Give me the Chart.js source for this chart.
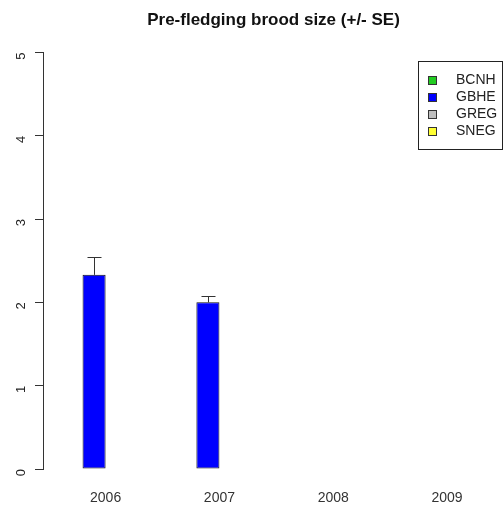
<!DOCTYPE html>
<html>
<head>
<meta charset="utf-8">
<title>Pre-fledging brood size</title>
<script src="https://cdn.jsdelivr.net/npm/chart.js@4.4.1/dist/chart.umd.min.js"></script>
<style>
  html, body { margin: 0; padding: 0; background: #fff; }
  canvas { display: block; }
</style>
</head>
<body>
<canvas id="broodChart" width="504" height="510"></canvas>
<script>
// Years on the x axis and species in each group
const years = ['2006', '2007', '2008', '2009'];
const species = ['BCNH', 'GBHE', 'GREG', 'SNEG'];
const speciesColors = ['#22cc22', '#0000ff', '#bebebe', '#ffff33'];

// Mean brood size per year, one array per species (null = no data)
const bcnhMean = [null, null, null, null];
const gbheMean = [2.33, 2.0, null, null];
const gregMean = [null, null, null, null];
const snegMean = [null, null, null, null];

// Standard errors
const bcnhSE = [null, null, null, null];
const gbheSE = [0.22, 0.08, null, null];
const gregSE = [null, null, null, null];
const snegSE = [null, null, null, null];

const yTicks = [0, 1, 2, 3, 4, 5];

const means = [bcnhMean, gbheMean, gregMean, snegMean];
const errors = [bcnhSE, gbheSE, gregSE, snegSE];

const font = "'Liberation Sans', Arial, sans-serif";

// upward error bars with a cap, from the mean to mean + SE
const errorBars = {
    id: 'errorBars',
    afterDatasetsDraw(chart) {
        const ctx = chart.ctx;
        const y = chart.scales.y;
        ctx.save();
        ctx.strokeStyle = '#333';
        ctx.lineWidth = 1;
        chart.data.datasets.forEach((ds, i) => {
            const meta = chart.getDatasetMeta(i);
            errors[i].forEach((se, j) => {
                const m = means[i][j];
                if (m == null || se == null) return;
                const bar = meta.data[j];
                const x = Math.round(bar.x) + 0.5;
                const top = Math.round(y.getPixelForValue(m + se)) + 0.5;
                ctx.beginPath();
                ctx.moveTo(x, y.getPixelForValue(m));
                ctx.lineTo(x, top);
                ctx.moveTo(x - 7, top);
                ctx.lineTo(x + 7, top);
                ctx.stroke();
            });
        });
        ctx.restore();
    }
};

// boxed legend in the top right corner
const boxLegend = {
    id: 'boxLegend',
    afterDraw(chart) {
        const ctx = chart.ctx;
        ctx.save();
        ctx.strokeStyle = '#222';
        ctx.lineWidth = 1;
        ctx.strokeRect(418.5, 61.5, 84, 88);
        ctx.font = '14px ' + font;
        ctx.textBaseline = 'middle';
        chart.data.datasets.forEach((ds, i) => {
            const cy = 80 + i * 17;
            ctx.fillStyle = ds.backgroundColor;
            ctx.fillRect(428, cy - 4, 9, 9);
            ctx.strokeStyle = '#333';
            ctx.strokeRect(428.5, cy - 3.5, 8, 8);
            ctx.fillStyle = '#222';
            ctx.fillText(ds.label, 456, cy);
        });
        ctx.restore();
    }
};

const ctx = document.getElementById('broodChart').getContext('2d');
new Chart(ctx, {
    type: 'bar',
    data: {
        datasets: species.map((name, i) => ({
            label: name,
            data: means[i].map((v, j) => ({ x: j, y: v })),
            backgroundColor: speciesColors[i],
            borderColor: '#111',
            borderWidth: 1,
            borderSkipped: false
        }))
    },
    options: {
        responsive: false,
        animation: false,
        devicePixelRatio: 1,
        categoryPercentage: 0.81,
        barPercentage: 1,
        layout: { padding: 0 },
        scales: {
            x: {
                type: 'linear',
                offset: false,
                min: -0.55,
                max: 3.5,
                grid: { display: false },
                border: { display: false },
                afterBuildTicks: s => { s.ticks = years.map((yr, i) => ({ value: i })); },
                afterFit: s => { s.height = 41; },
                ticks: {
                    padding: 13,
                    color: '#333',
                    font: { family: font, size: 14 },
                    callback: v => years[v]
                }
            },
            y: {
                min: 0,
                max: 5,
                afterBuildTicks: s => { s.ticks = yTicks.map(v => ({ value: v })); },
                afterFit: s => { s.width = 43; },
                grid: { drawOnChartArea: false, tickLength: 8, color: '#333' },
                border: { color: '#333' },
                ticks: {
                    minRotation: 90,
                    maxRotation: 90,
                    padding: 14,
                    color: '#222',
                    font: { family: font, size: 13 }
                }
            }
        },
        plugins: {
            legend: { display: false },
            tooltip: { enabled: false },
            title: {
                display: true,
                fullSize: false,
                text: 'Pre-fledging brood size (+/- SE)',
                color: '#111',
                font: { family: font, size: 17, weight: 'bold' },
                padding: { top: 10, bottom: 22 }
            }
        }
    },
    plugins: [errorBars, boxLegend]
});
</script>
</body>
</html>
